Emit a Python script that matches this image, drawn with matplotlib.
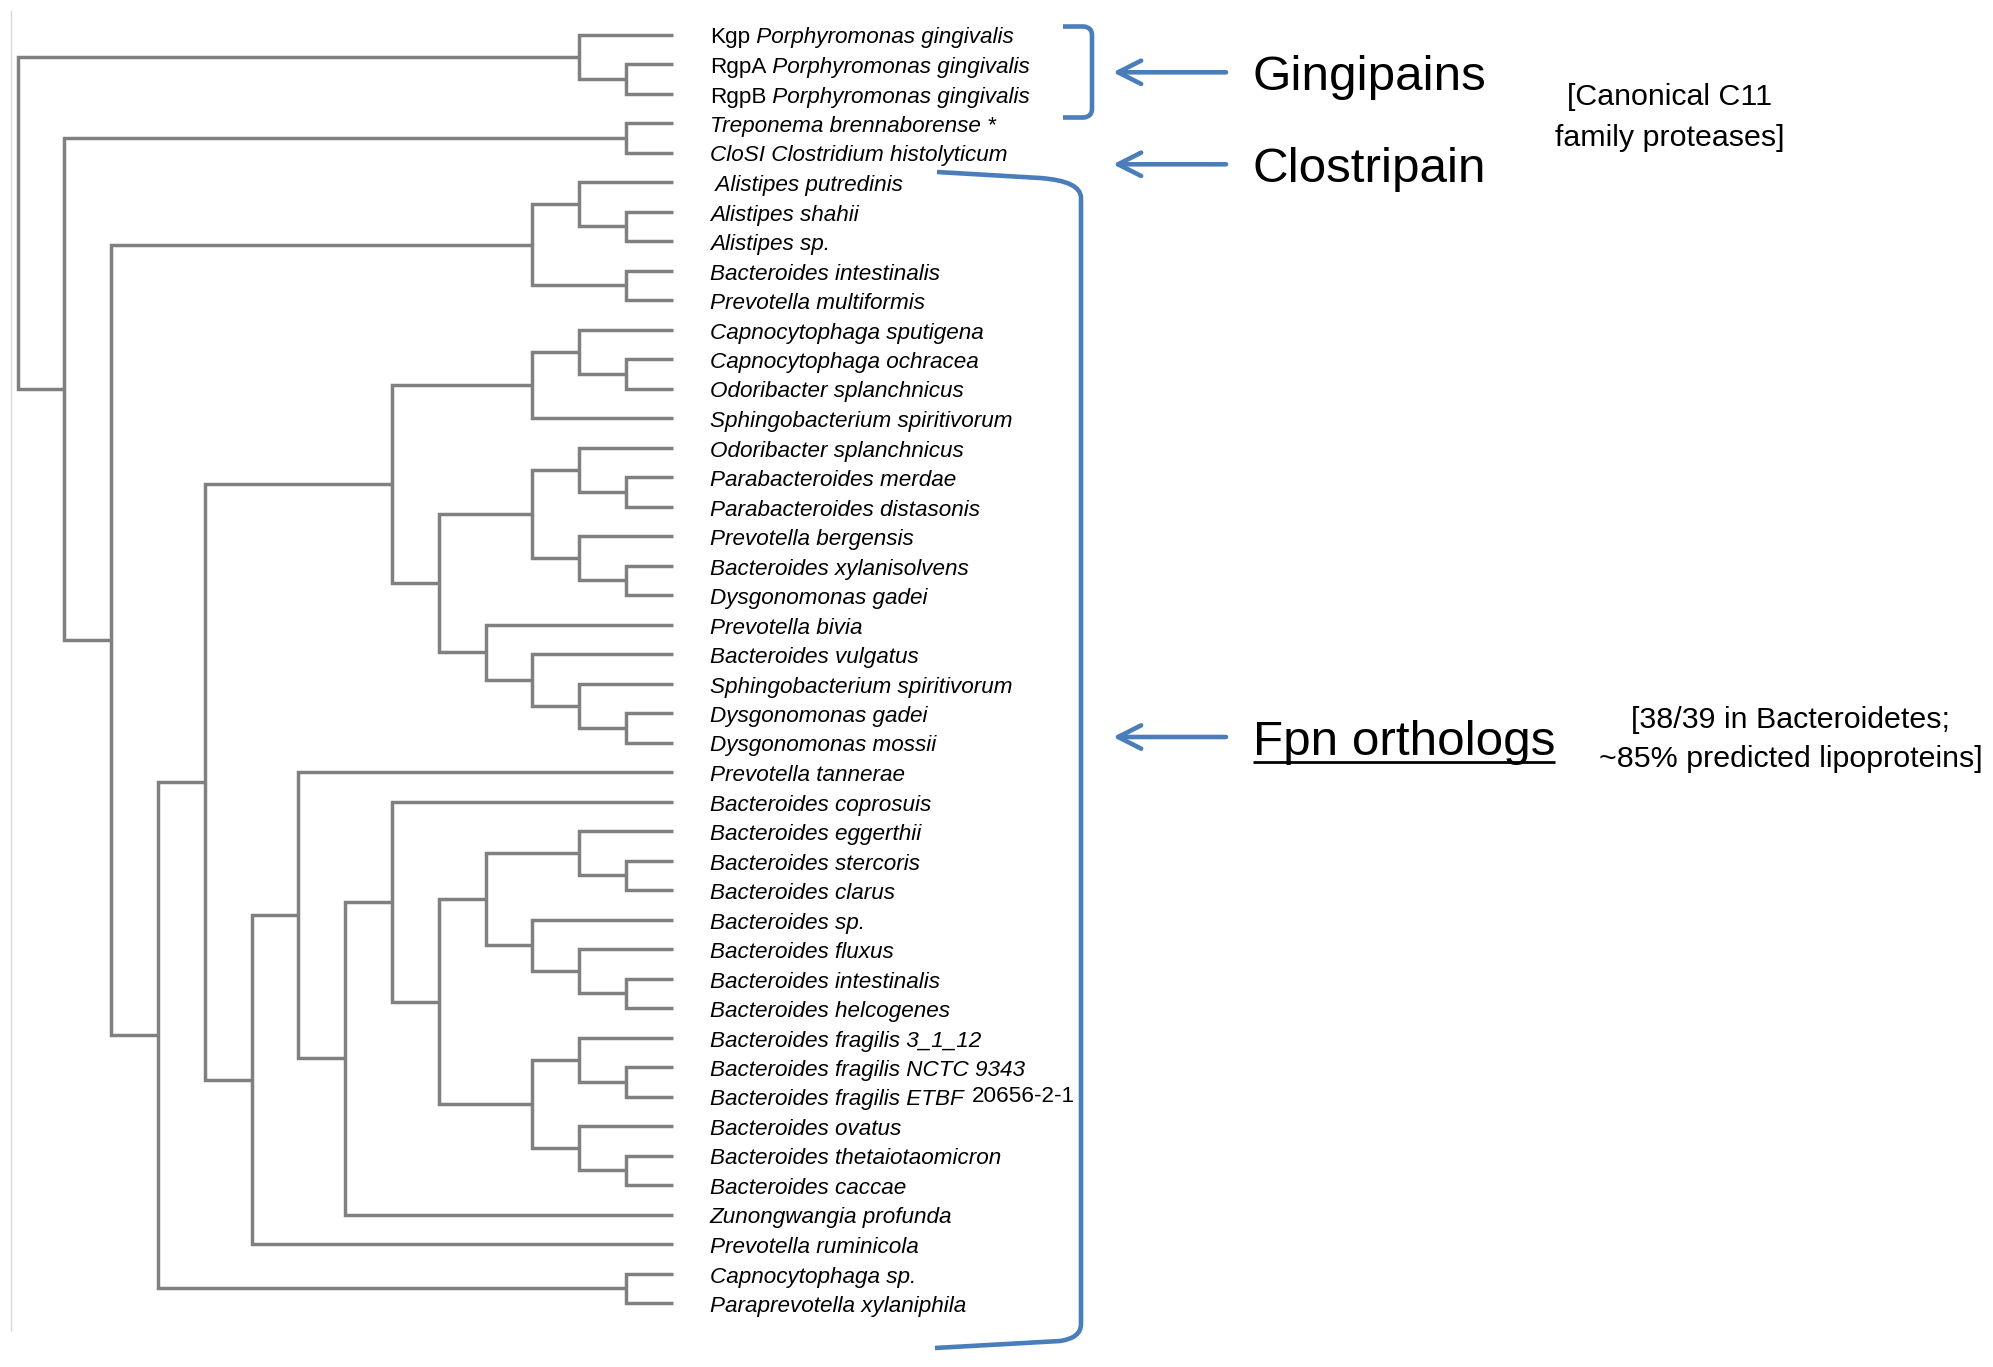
#!/usr/bin/env python3
"""
C11 family tree: gingipains, clostripain and Fpn orthologs
"""

import matplotlib
matplotlib.use('Agg')
import matplotlib.pyplot as plt
from matplotlib.path import Path
from matplotlib.patches import PathPatch

plt.rcParams['font.family'] = ['Liberation Sans', 'DejaVu Sans']

# leaf names, top to bottom (italic part)
leaf_labels = [
    'Porphyromonas gingivalis',
    'Porphyromonas gingivalis',
    'Porphyromonas gingivalis',
    'Treponema brennaborense *',
    'CloSI Clostridium histolyticum',
    ' Alistipes putredinis',
    'Alistipes shahii',
    'Alistipes sp.',
    'Bacteroides intestinalis',
    'Prevotella multiformis',
    'Capnocytophaga sputigena',
    'Capnocytophaga ochracea',
    'Odoribacter splanchnicus',
    'Sphingobacterium spiritivorum',
    'Odoribacter splanchnicus',
    'Parabacteroides merdae',
    'Parabacteroides distasonis',
    'Prevotella bergensis',
    'Bacteroides xylanisolvens',
    'Dysgonomonas gadei',
    'Prevotella bivia',
    'Bacteroides vulgatus',
    'Sphingobacterium spiritivorum',
    'Dysgonomonas gadei',
    'Dysgonomonas mossii',
    'Prevotella tannerae',
    'Bacteroides coprosuis',
    'Bacteroides eggerthii',
    'Bacteroides stercoris',
    'Bacteroides clarus',
    'Bacteroides sp.',
    'Bacteroides fluxus',
    'Bacteroides intestinalis',
    'Bacteroides helcogenes',
    'Bacteroides fragilis 3_1_12',
    'Bacteroides fragilis NCTC 9343',
    'Bacteroides fragilis ETBF',
    'Bacteroides ovatus',
    'Bacteroides thetaiotaomicron',
    'Bacteroides caccae',
    'Zunongwangia profunda',
    'Prevotella ruminicola',
    'Capnocytophaga sp.',
    'Paraprevotella xylaniphila',
]
# upright parts of some labels
upright_prefix = {0: 'Kgp', 1: 'RgpA', 2: 'RgpB'}
upright_suffix = {36: '20656-2-1'}

# topology: (column of the node, [children]); an int is a leaf index
leaf_depth = 14
tree = (0, [
    (12, [0, (13, [1, 2])]),
    (1, [
        (13, [3, 4]),
        (2, [
            (11, [(12, [5, (13, [6, 7])]), (13, [8, 9])]),
            (3, [
                (4, [
                    (8, [
                        (11, [(12, [10, (13, [11, 12])]), 13]),
                        (9, [
                            (11, [(12, [14, (13, [15, 16])]),
                                  (12, [17, (13, [18, 19])])]),
                            (10, [20, (11, [21, (12, [22, (13, [23, 24])])])]),
                        ]),
                    ]),
                    (5, [
                        (6, [25,
                             (7, [
                                 (8, [26,
                                      (9, [
                                          (10, [(12, [27, (13, [28, 29])]),
                                                (11, [30, (12, [31, (13, [32, 33])])])]),
                                          (11, [(12, [34, (13, [35, 36])]),
                                                (12, [37, (13, [38, 39])])]),
                                      ]),
                                      ]),
                                 40,
                             ]),
                             ]),
                        41,
                    ]),
                ]),
                (13, [42, 43]),
            ]),
        ]),
    ]),
])

# annotation texts
group_names = ['Gingipains', 'Clostripain', 'Fpn orthologs']
notes_c11 = ['[Canonical C11', 'family proteases]']
notes_fpn = ['[38/39 in Bacteroidetes;', '~85% predicted lipoproteins]']

W, H = 1993, 1367
TREE_GRAY = '#808080'
BLUE = '#4a7ebb'


def walk(node, ax):
    """draw the elbows of one node, return (x, y) of the node"""
    if isinstance(node, int):
        return leaf_depth, node
    depth, children = node
    pts = [walk(c, ax) for c in children]
    (x1, y1), (x2, y2) = pts[0], pts[-1]
    ax.plot([x1, depth, depth, x2], [y1, y1, y2, y2], color=TREE_GRAY,
            lw=2.5, solid_joinstyle='miter', solid_capstyle='butt', clip_on=False)
    return depth, sum(p[1] for p in pts) / len(pts)


def px_to_fig(x, y):
    return x / W, 1 - y / H


fig = plt.figure(figsize=(W / 100, H / 100), dpi=100)

# tree axes: column 0..14, leaves 0..43
l, t = px_to_fig(17.7, 34.5)
r, b = px_to_fig(672.7, 1303)
ax = fig.add_axes([l, b, r - l, t - b])
ax.set_xlim(0, leaf_depth)
ax.set_ylim(len(leaf_labels) - 1, 0)
ax.axis('off')
walk(tree, ax)

label_fs = 16.2
for i, name in enumerate(leaf_labels):
    anchor = dict(xy=(leaf_depth, i), xycoords='data', xytext=(37, -9),
                  textcoords='offset pixels', va='baseline', ha='left',
                  fontsize=label_fs, annotation_clip=False)
    if i in upright_prefix:
        pre = ax.annotate(upright_prefix[i], **anchor)
        txt = ax.annotate(' ' + name, xy=(1, 0), xycoords=pre, va='bottom',
                          ha='left', fontsize=label_fs, style='italic')
    else:
        txt = ax.annotate(name, style='italic', **anchor)
    if i in upright_suffix:
        ax.annotate(upright_suffix[i], xy=(1, 0), xycoords=txt, xytext=(8, 3),
                    textcoords='offset pixels', va='bottom', ha='left',
                    fontsize=label_fs)

# overlay axes in pixel units for brackets, arrows and notes
ov = fig.add_axes([0, 0, 1, 1])
ov.set_xlim(0, W)
ov.set_ylim(H, 0)
ov.axis('off')

# faint frame line on the left
ov.plot([10.7, 10.7], [11, 1330], color='#d8d8d8', lw=1.0)

# brackets
C = [Path.MOVETO, Path.LINETO, Path.CURVE3, Path.CURVE3,
     Path.LINETO, Path.CURVE3, Path.CURVE3, Path.LINETO]
ging = [(1063, 26.5), (1084, 26.5), (1092, 27.5), (1092, 35),
        (1092, 109), (1092, 116.5), (1084, 117.5), (1063, 117.5)]
fpn = [(937, 172), (1040, 178), (1081, 181), (1081, 198),
       (1081, 1324), (1081, 1338), (1060, 1341), (935, 1348)]
for verts in (ging, fpn):
    ov.add_patch(PathPatch(Path(verts, C), fill=False, edgecolor=BLUE,
                           lw=3.3, capstyle='butt', joinstyle='round'))

# arrows + group names
arrow_y = [72.3, 164.3, 737]
big_fs = 35.6
for name, y in zip(group_names, arrow_y):
    ov.annotate('', xy=(1113, y), xytext=(1226, y),
                arrowprops=dict(arrowstyle='->,head_length=0.83,head_width=0.42',
                                lw=3.3, color=BLUE, mutation_scale=20,
                                shrinkA=0, shrinkB=0, capstyle='round',
                                joinstyle='round'))
    g = ov.text(1253, y + 17.7, name, fontsize=big_fs, ha='left', va='baseline')
    if name == 'Fpn orthologs':
        fpn_text = g

# bracketed notes
note_fs = 21.9
for line, y in zip(notes_c11, [105, 146]):
    ov.text(1670, y, line, fontsize=note_fs, ha='center', va='baseline')
for line, y in zip(notes_fpn, [728, 767]):
    ov.text(1791, y, line, fontsize=note_fs, ha='center', va='baseline')

# underline Fpn orthologs
fig.canvas.draw()
bb = fpn_text.get_window_extent().transformed(ov.transData.inverted())
ov.plot([bb.x0, bb.x1], [737 + 25, 737 + 25], color='black', lw=2.0,
        solid_capstyle='butt')

plt.savefig('out.png', dpi=100)
print("saved out.png")
